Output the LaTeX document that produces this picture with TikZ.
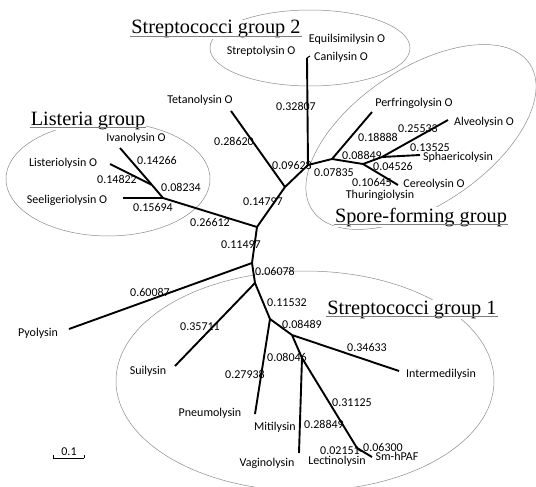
\documentclass[tikz,border=0pt]{standalone}
\usepackage{fontspec}
\setmainfont{Liberation Serif}
\setsansfont{Carlito}
\usetikzlibrary{shapes.geometric}
\begin{document}
\begin{tikzpicture}[x=1pt,y=-1pt,
  br/.style={line width=1.9pt},
  lbl/.style={font=\sffamily\fontsize{12}{14}\selectfont, inner sep=0pt, text height=7pt, text depth=0pt},
  grp/.style={font=\fontsize{20.3}{24}\selectfont, fill=white, inner sep=1pt, anchor=base},
  uline/.style={draw=gray, line width=0.8pt},
  hull/.style={ellipse, draw=gray!90, line width=0.5pt, inner sep=0pt},
  tick/.style={line width=0.6pt}]
\useasboundingbox[fill=white] (0,0) rectangle (536,487);

% group hulls
\node[hull, minimum width=200pt, minimum height=76pt] (hullB) at (310,48) {};
\node[hull, minimum width=204pt, minimum height=114pt] (hullL) at (108,179) {};
\node[hull, minimum width=262pt, minimum height=136pt, rotate=34] (hullS) at (421,137) {};
\node[hull, minimum width=378pt, minimum height=220pt] (hullA) at (305,381) {};

% tree vertices
\coordinate (A) at (257,227);
\coordinate (L) at (163,198);
\coordinate (L2) at (152,185);
\coordinate (seelT) at (123,198);
\coordinate (ivanT) at (120,148);
\coordinate (listT) at (110,164);
\coordinate (B) at (285,187);
\coordinate (tetT) at (231,111);
\coordinate (C) at (308,165);
\coordinate (sgT) at (307,58);
\coordinate (D) at (332,159);
\coordinate (perfT) at (372,112);
\coordinate (E) at (363,164);
\coordinate (G) at (382,157);
\coordinate (alvT) at (448,120);
\coordinate (sphT) at (420,155);
\coordinate (cerT) at (398,185);
\coordinate (H) at (252,263);
\coordinate (pyoT) at (69,329);
\coordinate (I) at (255,283);
\coordinate (suiT) at (175,366);
\coordinate (J) at (270,319);
\coordinate (pneT) at (255,414);
\coordinate (K) at (292,335);
\coordinate (intT) at (399,371);
\coordinate (M) at (302,358);
\coordinate (vagT) at (299,453);
\coordinate (N) at (357,448);
\coordinate (lecT) at (361,451);
\coordinate (smT) at (372,457);

% branches
\draw[br] (A) -- (L);
\draw[br] (L) -- (seelT);
\draw[br] (L) -- (L2);
\draw[br] (L2) -- (ivanT);
\draw[br] (L2) -- (listT);
\draw[br] (A) -- (B);
\draw[br] (B) -- (tetT);
\draw[br] (B) -- (C);
\draw[br] (C) -- (sgT);
\draw[tick, line width=1pt] (sgT) -- ++(3,-2);
\draw[br] (C) -- (D);
\draw[br] (D) -- (perfT);
\draw[br] (D) -- (E);
\draw[br] (E) -- (G);
\draw[br] (G) -- (alvT);
\draw[br] (G) -- (sphT);
\draw[br] (E) -- (cerT);
\draw[br] (A) -- (H);
\draw[br] (H) -- (pyoT);
\draw[br] (H) -- (I);
\draw[br] (I) -- (suiT);
\draw[br] (I) -- (J);
\draw[br] (J) -- (pneT);
\draw[br] (J) -- (K);
\draw[br] (K) -- (intT);
\draw[br] (K) -- (M);
\draw[br] (M) -- (vagT);
\draw[br] (M) -- (N);
\draw[br] (N) -- (lecT);
\draw[br] (N) -- (smT);

% group titles
\node[grp] (tB) at (216,34) {Streptococci group 2};
\draw[uline] ([yshift=-2pt]tB.base west) -- ([yshift=-2pt]tB.base east);
\node[grp] (tL) at (88,125) {Listeria group};
\draw[uline] ([yshift=-2pt]tL.base west) -- ([yshift=-2pt]tL.base east);
\node[grp] (tS) at (421,222) {Spore-forming group};
\draw[uline] ([yshift=-2pt]tS.base west) -- ([yshift=-2pt]tS.base east);
\node[grp] (tA) at (412,314) {Streptococci group 1};
\draw[uline] ([yshift=-2pt]tA.base west) -- ([yshift=-2pt]tA.base east);

% leaf names
\node[lbl] (nEqu) at (347,39) {Equilsimilysin O};
\node[lbl] (nStr) at (261,51) {Streptolysin O};
\node[lbl] (nCan) at (341,57) {Canilysin O};
\node[lbl] (nTet) at (200,100) {Tetanolysin O};
\node[lbl] (nIva) at (136,138) {Ivanolysin O};
\node[lbl] (nLis) at (63,163) {Listeriolysin O};
\node[lbl] (nSee) at (67,200) {Seeligeriolysin O};
\node[lbl] (nPer) at (414,103) {Perfringolysin O};
\node[lbl] (nAlv) at (484,122) {Alveolysin O};
\node[lbl] (nSph) at (458,157) {Sphaericolysin};
\node[lbl] (nCer) at (434,184) {Cereolysin O};
\node[lbl] (nThu) at (380,195) {Thuringiolysin};
\node[lbl] (nPyo) at (38,333) {Pyolysin};
\node[lbl] (nSui) at (148,371) {Suilysin};
\node[lbl] (nPne) at (210,413) {Pneumolysin};
\node[lbl] (nMit) at (275,427) {Mitilysin};
\node[lbl] (nVag) at (267,463) {Vaginolysin};
\node[lbl] (nInt) at (441,374) {Intermedilysin};
\node[lbl] (nLec) at (337,461) {Lectinolysin};
\node[lbl] (nSm) at (397,457) {Sm-hPAF};

% branch lengths
\node[lbl] (v1) at (157,161) {0.14266};
\node[lbl] (v2) at (117,180) {0.14822};
\node[lbl] (v3) at (181,188) {0.08234};
\node[lbl] (v4) at (153,208) {0.15694};
\node[lbl] (v5) at (210,223) {0.26612};
\node[lbl] (v6) at (241,245) {0.11497};
\node[lbl] (v7) at (234,142) {0.28620};
\node[lbl] (v8) at (263,202) {0.14797};
\node[lbl] (v9) at (292,166) {0.09628};
\node[lbl] (v10) at (296,107) {0.32807};
\node[lbl] (v11) at (334,173) {0.07835};
\node[lbl] (v12) at (378,138) {0.18888};
\node[lbl] (v13) at (418,129) {0.25533};
\node[lbl] (v14) at (430,148) {0.13525};
\node[lbl] (v15) at (362,156) {0.08849};
\node[lbl] (v16) at (393,167) {0.04526};
\node[lbl] (v17) at (372,183) {0.10645};
\node[lbl] (v18) at (150,293) {0.60087};
\node[lbl] (v19) at (275,272) {0.06078};
\node[lbl] (v20) at (287,303) {0.11532};
\node[lbl] (v21) at (200,327) {0.35711};
\node[lbl] (v22) at (245,375) {0.27938};
\node[lbl] (v23) at (302,325) {0.08489};
\node[lbl] (v24) at (367,348) {0.34633};
\node[lbl] (v25) at (287,358) {0.08046};
\node[lbl] (v26) at (352,403) {0.31125};
\node[lbl] (v27) at (324,425) {0.28849};
\node[lbl] (v28) at (340,451) {0.02151};
\node[lbl] (v29) at (383,448) {0.06300};

% scale bar
\node[lbl] (sbl) at (69,452) {0.1};
\coordinate (sb1) at (53,458);
\coordinate (sb2) at (84,458);
\draw[tick] (sb1) -- (sb2);
\draw[tick] (sb1) -- ++(0,-3);
\draw[tick] (sb2) -- ++(0,-3);
\end{tikzpicture}
\end{document}
